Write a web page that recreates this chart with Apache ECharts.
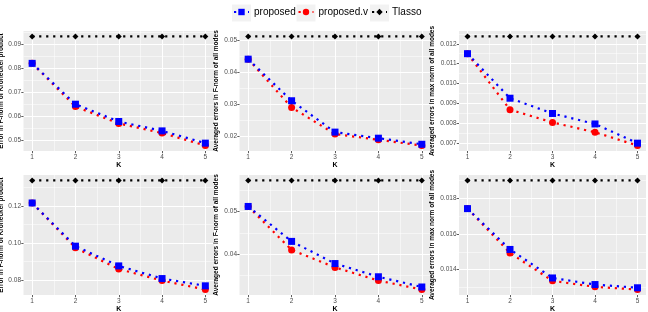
<!DOCTYPE html>
<html><head><meta charset="utf-8">
<script src="https://cdn.jsdelivr.net/npm/echarts@6/dist/echarts.min.js"></script>
<style>html,body{margin:0;padding:0;background:#fff}#c{width:648px;height:312px}</style>
</head><body><div id="c"></div>
<script>
// ---- data ----
const K = [1, 2, 3, 4, 5];
const xTicks = [1, 2, 3, 4, 5];
const xMinor = [1.5, 2.5, 3.5, 4.5];

const p1Proposed  = [0.0820, 0.0650, 0.0578, 0.0539, 0.0488];
const p1ProposedV = [0.0820, 0.0640, 0.0570, 0.0530, 0.0478];
const p1Tlasso    = [0.0932, 0.0932, 0.0932, 0.0932, 0.0932];
const p1Ticks = [0.05, 0.06, 0.07, 0.08, 0.09];
const p1TickLabels = ['0.05', '0.06', '0.07', '0.08', '0.09'];

const p2Proposed  = [0.0442, 0.0312, 0.0214, 0.0195, 0.0176];
const p2ProposedV = [0.0442, 0.0291, 0.0208, 0.0190, 0.0172];
const p2Tlasso    = [0.0513, 0.0513, 0.0513, 0.0513, 0.0513];
const p2Ticks = [0.02, 0.03, 0.04, 0.05];
const p2TickLabels = ['0.02', '0.03', '0.04', '0.05'];

const p3Proposed  = [0.01150, 0.00925, 0.00848, 0.00795, 0.00698];
const p3ProposedV = [0.01150, 0.00867, 0.00803, 0.00753, 0.00686];
const p3Tlasso    = [0.01237, 0.01237, 0.01237, 0.01237, 0.01237];
const p3Ticks = [0.007, 0.008, 0.009, 0.010, 0.011, 0.012];
const p3TickLabels = ['0.007', '0.008', '0.009', '0.010', '0.011', '0.012'];

const p4Proposed  = [0.1215, 0.0983, 0.0877, 0.0809, 0.0770];
const p4ProposedV = [0.1215, 0.0974, 0.0860, 0.0798, 0.0750];
const p4Tlasso    = [0.1336, 0.1336, 0.1336, 0.1336, 0.1336];
const p4Ticks = [0.08, 0.10, 0.12];
const p4TickLabels = ['0.08', '0.10', '0.12'];

const p5Proposed  = [0.0512, 0.0430, 0.0378, 0.0347, 0.0323];
const p5ProposedV = [0.0512, 0.0410, 0.0369, 0.0338, 0.0317];
const p5Tlasso    = [0.0573, 0.0573, 0.0573, 0.0573, 0.0573];
const p5Ticks = [0.04, 0.05];
const p5TickLabels = ['0.04', '0.05'];

const p6Proposed  = [0.01742, 0.01513, 0.01353, 0.01316, 0.01298];
const p6ProposedV = [0.01742, 0.01493, 0.01337, 0.01303, 0.01288];
const p6Tlasso    = [0.0190, 0.0190, 0.0190, 0.0190, 0.0190];
const p6Ticks = [0.014, 0.016, 0.018];
const p6TickLabels = ['0.014', '0.016', '0.018'];

const titleKron = 'Error in F-norm of Kronecker product';
const titleF = 'Averaged errors in F-norm of all modes';
const titleMax = 'Averaged errors in max norm of all modes';

const panels = [
  {prop: p1Proposed, propV: p1ProposedV, tl: p1Tlasso, ticks: p1Ticks, labels: p1TickLabels, title: titleKron},
  {prop: p2Proposed, propV: p2ProposedV, tl: p2Tlasso, ticks: p2Ticks, labels: p2TickLabels, title: titleF},
  {prop: p3Proposed, propV: p3ProposedV, tl: p3Tlasso, ticks: p3Ticks, labels: p3TickLabels, title: titleMax},
  {prop: p4Proposed, propV: p4ProposedV, tl: p4Tlasso, ticks: p4Ticks, labels: p4TickLabels, title: titleKron},
  {prop: p5Proposed, propV: p5ProposedV, tl: p5Tlasso, ticks: p5Ticks, labels: p5TickLabels, title: titleF},
  {prop: p6Proposed, propV: p6ProposedV, tl: p6Tlasso, ticks: p6Ticks, labels: p6TickLabels, title: titleMax}
];

// ---- layout ----
const cols = [{left: 23.5, width: 190.5, gap: 19}, {left: 239.5, width: 191, gap: 20.2}, {left: 459, width: 187, gap: 23}];
const rows = [{top: 31, height: 120}, {top: 175, height: 120}];

const FONT = '"Liberation Sans", Arial, Helvetica, sans-serif';
const BLUE = '#0000FF', RED = '#FF0000', BLACK = '#000000';
const lineW = 2.2, dash = [2.2, 4.8];

const grids = [], xAxes = [], yAxes = [], series = [];

panels.forEach((p, i) => {
  const c = cols[i % 3], r = rows[Math.floor(i / 3)];
  grids.push({left: c.left, top: r.top, width: c.width, height: r.height, show: true,
    backgroundColor: '#EBEBEB', borderWidth: 0, containLabel: false, outerBoundsMode: 'none'});
  const all = p.prop.concat(p.propV, p.tl);
  const lo = Math.min(...all), hi = Math.max(...all), ex = (hi - lo) * 0.05;
  const ymin = lo - ex, ymax = hi + ex;
  const step = p.ticks[1] - p.ticks[0];
  const yMinor = [];
  const cand = [p.ticks[0] - step / 2];
  for (let j = 0; j < p.ticks.length; j++) cand.push(p.ticks[j] + step / 2);
  cand.forEach(v => { if (v > ymin && v < ymax) yMinor.push(v); });

  // minor axes (drawn first)
  xAxes.push({gridIndex: i, type: 'value', position: 'bottom', offset: 0, min: 0.8, max: 5.2, show: true,
    axisLine: {show: false}, axisLabel: {show: false},
    axisTick: {show: false, customValues: xMinor},
    splitLine: {show: true, lineStyle: {color: '#FFFFFF', width: 0.5}}, z: 0});
  yAxes.push({gridIndex: i, type: 'value', position: 'left', offset: 0, min: ymin, max: ymax, show: true,
    axisLine: {show: false}, axisLabel: {show: false},
    axisTick: {show: false, customValues: yMinor},
    splitLine: {show: true, lineStyle: {color: '#FFFFFF', width: 0.5}}, z: 0});
  // major axes
  xAxes.push({gridIndex: i, type: 'value', position: 'bottom', offset: 0, min: 0.8, max: 5.2,
    name: 'K', nameLocation: 'middle', nameGap: 11, nameMoveOverlap: false,
    nameTextStyle: {fontFamily: FONT, fontWeight: 'bold', fontSize: 7, color: '#000'},
    axisLine: {show: false},
    axisTick: {show: true, customValues: xTicks, length: 2.2, lineStyle: {color: '#333333', width: 0.8}},
    axisLabel: {show: true, customValues: xTicks, margin: 2.5, fontFamily: FONT, fontSize: 6.5, color: '#4D4D4D',
      formatter: v => String(Math.round(v))},
    splitLine: {show: true, lineStyle: {color: '#FFFFFF', width: 1}}});
  yAxes.push({gridIndex: i, type: 'value', position: 'left', offset: 0, min: ymin, max: ymax,
    name: p.title, nameLocation: 'middle', nameGap: c.gap, nameMoveOverlap: false,
    nameTextStyle: {fontFamily: FONT, fontWeight: 'bold', fontSize: 6.5, color: '#000'},
    axisLine: {show: false},
    axisTick: {show: true, customValues: p.ticks, length: 2.2, lineStyle: {color: '#333333', width: 0.8}},
    axisLabel: {show: true, customValues: p.ticks, margin: 2.5, fontFamily: FONT, fontSize: 6.5, color: '#4D4D4D',
      formatter: v => { let k = 0, best = Infinity; p.ticks.forEach((t, j) => { const d = Math.abs(t - v); if (d < best) { best = d; k = j; } }); return p.labels[k]; }},
    splitLine: {show: true, lineStyle: {color: '#FFFFFF', width: 1}}});

  const xi = 2 * i + 1;
  const mk = vals => K.map((k, j) => [k, vals[j]]);
  series.push({name: 'proposed.v', type: 'line', xAxisIndex: xi, yAxisIndex: xi, data: mk(p.propV),
    symbol: 'circle', symbolSize: 7, itemStyle: {color: RED},
    lineStyle: {color: RED, width: lineW, type: dash}, z: 3});
  series.push({name: 'proposed', type: 'line', xAxisIndex: xi, yAxisIndex: xi, data: mk(p.prop),
    symbol: 'rect', symbolSize: 7, itemStyle: {color: BLUE},
    lineStyle: {color: BLUE, width: lineW, type: dash}, z: 4});
  series.push({name: 'Tlasso', type: 'line', xAxisIndex: xi, yAxisIndex: xi, data: mk(p.tl),
    symbol: 'diamond', symbolSize: 6, itemStyle: {color: BLACK},
    lineStyle: {color: BLACK, width: lineW, type: dash}, z: 4});
});

const legendBase = {orient: 'horizontal', top: 7, padding: 0, itemWidth: 15, itemHeight: 8,
  textStyle: {fontFamily: FONT, fontSize: 10, color: '#000'}, selectedMode: false};
const legends = [
  Object.assign({}, legendBase, {data: ['proposed'], left: 233}),
  Object.assign({}, legendBase, {data: ['proposed.v'], left: 297.5}),
  Object.assign({}, legendBase, {data: ['Tlasso'], left: 371})
];

const option = {
  animation: false,
  backgroundColor: '#FFFFFF',
  legend: legends,
  graphic: [
    {type: 'rect', shape: {x: 232, y: 4.5, width: 19, height: 17}, style: {fill: '#F2F2F2'}, z: 0},
    {type: 'rect', shape: {x: 296.5, y: 4.5, width: 19, height: 17}, style: {fill: '#F2F2F2'}, z: 0},
    {type: 'rect', shape: {x: 370, y: 4.5, width: 19, height: 17}, style: {fill: '#F2F2F2'}, z: 0}
  ],
  grid: grids,
  xAxis: xAxes,
  yAxis: yAxes,
  series: series
};

const chart = echarts.init(document.getElementById('c'), null, {renderer: 'canvas'});
chart.setOption(option);
</script>
</body></html>
